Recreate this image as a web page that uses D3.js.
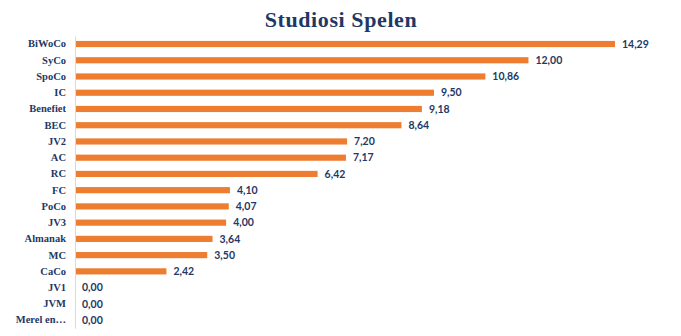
<!DOCTYPE html>
<html>
<head>
<meta charset="utf-8">
<script src="https://cdn.jsdelivr.net/npm/d3@7"></script>
<style>
  html, body { margin: 0; padding: 0; background: #fff; }
  svg { display: block; }
</style>
</head>
<body>
<div id="chart"></div>
<script>
// Scores per group
const categories = ["BiWoCo", "SyCo", "SpoCo", "IC", "Benefiet", "BEC", "JV2", "AC", "RC", "FC", "PoCo", "JV3", "Almanak", "MC", "CaCo", "JV1", "JVM", "Merel en…"];
const values = [14.29, 12.00, 10.86, 9.50, 9.18, 8.64, 7.20, 7.17, 6.42, 4.10, 4.07, 4.00, 3.64, 3.50, 2.42, 0.00, 0.00, 0.00];
const title = "Studiosi Spelen";

const W = 681, H = 336;
const navy = "#1f3864";
const orange = "#ed7d31";

const svg = d3.select("#chart").append("svg")
  .attr("width", W).attr("height", H);

const x = d3.scaleLinear().domain([0, 16]).range([75, 679.6]);
const y = d3.scaleBand().domain(categories).range([35.9, 328.2]).paddingInner(0.62).paddingOuter(0.31);

svg.append("text")
  .attr("x", 341).attr("y", 27)
  .attr("text-anchor", "middle")
  .attr("font-family", "'Liberation Serif', 'DejaVu Serif', serif")
  .attr("font-weight", "bold")
  .attr("font-size", 22)
  .attr("letter-spacing", 0.6)
  .attr("fill", navy)
  .text(title);

// Bars
svg.append("g").selectAll("rect")
  .data(categories)
  .join("rect")
  .attr("x", x(0))
  .attr("y", d => y(d))
  .attr("width", (d, i) => x(values[i]) - x(0))
  .attr("height", y.bandwidth())
  .attr("fill", orange);

// Category axis
const yAxis = svg.append("g")
  .attr("transform", `translate(${x(0)},0)`)
  .call(d3.axisLeft(y).tickSize(0).tickPadding(9));
yAxis.select(".domain").attr("stroke", "#d9d9d9").attr("stroke-width", 1);
yAxis.selectAll("text")
  .attr("font-family", "'Liberation Serif', 'DejaVu Serif', serif")
  .attr("font-weight", "bold")
  .attr("font-size", 10.5)
  .attr("fill", navy);

// Value labels
svg.append("g").selectAll("text")
  .data(categories)
  .join("text")
  .attr("x", (d, i) => x(values[i]) + 7)
  .attr("y", d => y(d) + y.bandwidth() / 2)
  .attr("dy", "0.35em")
  .attr("font-family", "Lato, 'Open Sans', sans-serif")
  .attr("font-weight", "bold")
  .attr("font-size", 10.5)
  .attr("fill", navy)
  .text((d, i) => values[i].toFixed(2).replace(".", ","));
</script>
</body>
</html>
